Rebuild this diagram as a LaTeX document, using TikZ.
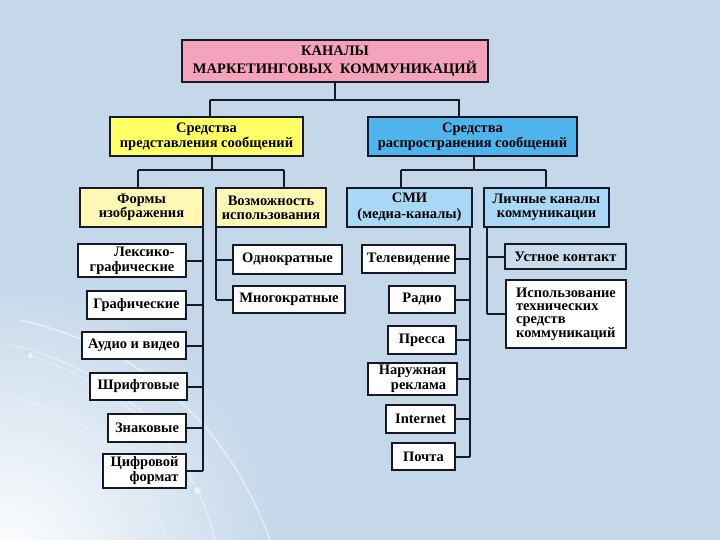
\documentclass[tikz,border=0pt]{standalone}
\usepackage{fontspec}
\setmainfont{Liberation Serif}
\usetikzlibrary{shadows}
\definecolor{bgc}{RGB}{197,216,234}
\definecolor{pinkc}{RGB}{245,163,188}
\definecolor{yelc}{RGB}{255,255,102}
\definecolor{bluc}{RGB}{80,180,236}
\definecolor{lyelc}{RGB}{255,247,180}
\definecolor{lbluc}{RGB}{168,216,245}
\definecolor{greyc}{RGB}{200,220,236}
\definecolor{linec}{RGB}{20,24,40}
\tikzset{
  box/.style={draw=linec, line width=1.6pt, fill=white, inner sep=1pt,
    align=center, font=\bfseries\fontsize{14.5}{14.5}\selectfont,
    drop shadow={shadow xshift=1.2pt, shadow yshift=-1.2pt, fill=black!55, opacity=0.8}},
  conn/.style={draw=linec, line width=2pt},
  ls/.style={font=\bfseries\fontsize{14.5}{#1}\selectfont}
}
\begin{document}
\begin{tikzpicture}[x=1pt,y=-1pt]
\useasboundingbox (0,0) rectangle (720,540);
\fill[bgc] (0,0) rectangle (720,540);
\begin{scope}
\clip (0,0) rectangle (720,540);
\shade[inner color=white, outer color=bgc] (0,560) circle (280);
\draw[white, line width=1.5pt, opacity=0.5] (20,320) .. controls (150,350) and (230,430) .. (270,540);
\draw[white, line width=1.2pt, opacity=0.45] (10,345) .. controls (120,370) and (190,440) .. (215,540);
\draw[white, line width=1pt, opacity=0.4] (30,355) .. controls (130,390) and (180,450) .. (200,500);
\draw[white, line width=1pt, opacity=0.35] (0,395) .. controls (90,410) and (150,470) .. (165,540);
\shade[inner color=white, outer color=bgc, opacity=0.8] (30,355) circle (5);
\shade[inner color=white, outer color=bgc, opacity=0.8] (197,490) circle (6);
\end{scope}

% level 0
\node[box, ls=18, fill=pinkc, minimum width=306pt, minimum height=42pt] (top) at (335,61)
  {КАНАЛЫ\\МАРКЕТИНГОВЫХ\ \ КОММУНИКАЦИЙ};
% level 1
\node[box, ls=15, fill=yelc, minimum width=193pt, minimum height=39pt] (yel) at (206.5,136.5)
  {Средства\\представления сообщений};
\node[box, ls=15, fill=bluc, minimum width=209pt, minimum height=39pt] (blu) at (472.5,136.5)
  {Средства\\распространения сообщений};
% level 2
\node[box, ls=14, fill=lyelc, minimum width=123pt, minimum height=39pt] (forms) at (141.5,207.5)
  {Формы\\изображения};
\node[box, ls=14, fill=lyelc, minimum width=110pt, minimum height=39pt] (vozm) at (271,207.5)
  {Возможность\\использования};
\node[box, ls=16, fill=lbluc, minimum width=125pt, minimum height=39pt] (smi) at (409.5,207.5)
  {СМИ\\(медиа-каналы)};
\node[box, ls=14, fill=lbluc, minimum width=125pt, minimum height=39pt] (lich) at (546.5,207.5)
  {Личные каналы\\коммуникации};

% left column
\node[box, ls=15, align=right, minimum width=108pt, minimum height=33pt] (lex) at (132,260.5) {Лексико-\\графические};
\node[box, minimum width=99pt, minimum height=28pt] (graf) at (136.5,305) {Графические};
\node[box, minimum width=104pt, minimum height=27pt] (audio) at (134,345.5) {Аудио и видео};
\node[box, minimum width=97pt, minimum height=27pt] (shrift) at (138.5,386.5) {Шрифтовые};
\node[box, minimum width=78pt, minimum height=28pt] (znak) at (147,428) {Знаковые};
\node[box, ls=15, align=right, minimum width=83pt, minimum height=34pt] (cifr) at (144.5,471) {Цифровой\\формат};

% middle column
\node[box, minimum width=109pt, minimum height=29pt] (odn) at (287.5,259.5) {Однократные};
\node[box, minimum width=112pt, minimum height=27pt] (mnog) at (289,299.5) {Многократные};

% SMI column
\node[box, minimum width=93pt, minimum height=28pt] (tv) at (408.5,259) {Телевидение};
\node[box, minimum width=66pt, minimum height=27pt] (radio) at (422,299.5) {Радио};
\node[box, minimum width=68pt, minimum height=28pt] (press) at (422,340) {Пресса};
\node[box, ls=15, align=right, minimum width=89pt, minimum height=32pt] (nar) at (412.5,379) {Наружная\\реклама};
\node[box, minimum width=69pt, minimum height=28pt] (inet) at (420.5,419) {Internet};
\node[box, minimum width=63pt, minimum height=27pt] (pochta) at (423.5,456.5) {Почта};

% personal column
\node[box, fill=greyc, minimum width=121pt, minimum height=25pt] (ustn) at (565.5,256.5) {Устное контакт};
\node[box, ls=13, align=left, minimum width=120pt, minimum height=68pt] (ispol) at (566,314)
  {Использование\\технических\\средств\\коммуникаций};

% connectors
\coordinate (t1) at (337,100);
\draw[conn] (top.south) -- (top.south |- t1);
\draw[conn] (210,100) -| (yel.north -| 210,0);
\draw[conn] (210,100) -- (459,100) -- (blu.north -| 459,0);

\draw[conn] (yel.south -| 212,0) -- (212,170);
\draw[conn] (138,170) -- (284,170);
\draw[conn] (138,170) -- (forms.north -| 138,0);
\draw[conn] (284,170) -- (vozm.north -| 284,0);

\draw[conn] (blu.south -| 474,0) -- (474,170);
\draw[conn] (401,170) -- (546,170);
\draw[conn] (401,170) -- (smi.north -| 401,0);
\draw[conn] (546,170) -- (lich.north -| 546,0);

% left column line
\coordinate (lx) at (203,0);
\draw[conn] (forms.south -| lx) -- (cifr.east -| lx);
\foreach \n in {lex,graf,audio,shrift,znak,cifr} \draw[conn] (\n.east) -- (\n.east -| lx);

\coordinate (mx) at (216,0);
\draw[conn] (vozm.south -| mx) -- (mnog.west -| mx);
\foreach \n in {odn,mnog} \draw[conn] (\n.west) -- (\n.west -| mx);

\coordinate (sx) at (470,0);
\draw[conn] (smi.south -| sx) -- (pochta.east -| sx);
\foreach \n in {tv,radio,press,nar,inet,pochta} \draw[conn] (\n.east) -- (\n.east -| sx);

\coordinate (px) at (487,0);
\draw[conn] (lich.south -| px) -- (ispol.west -| px);
\foreach \n in {ustn,ispol} \draw[conn] (\n.west) -- (\n.west -| px);
\end{tikzpicture}
\end{document}
